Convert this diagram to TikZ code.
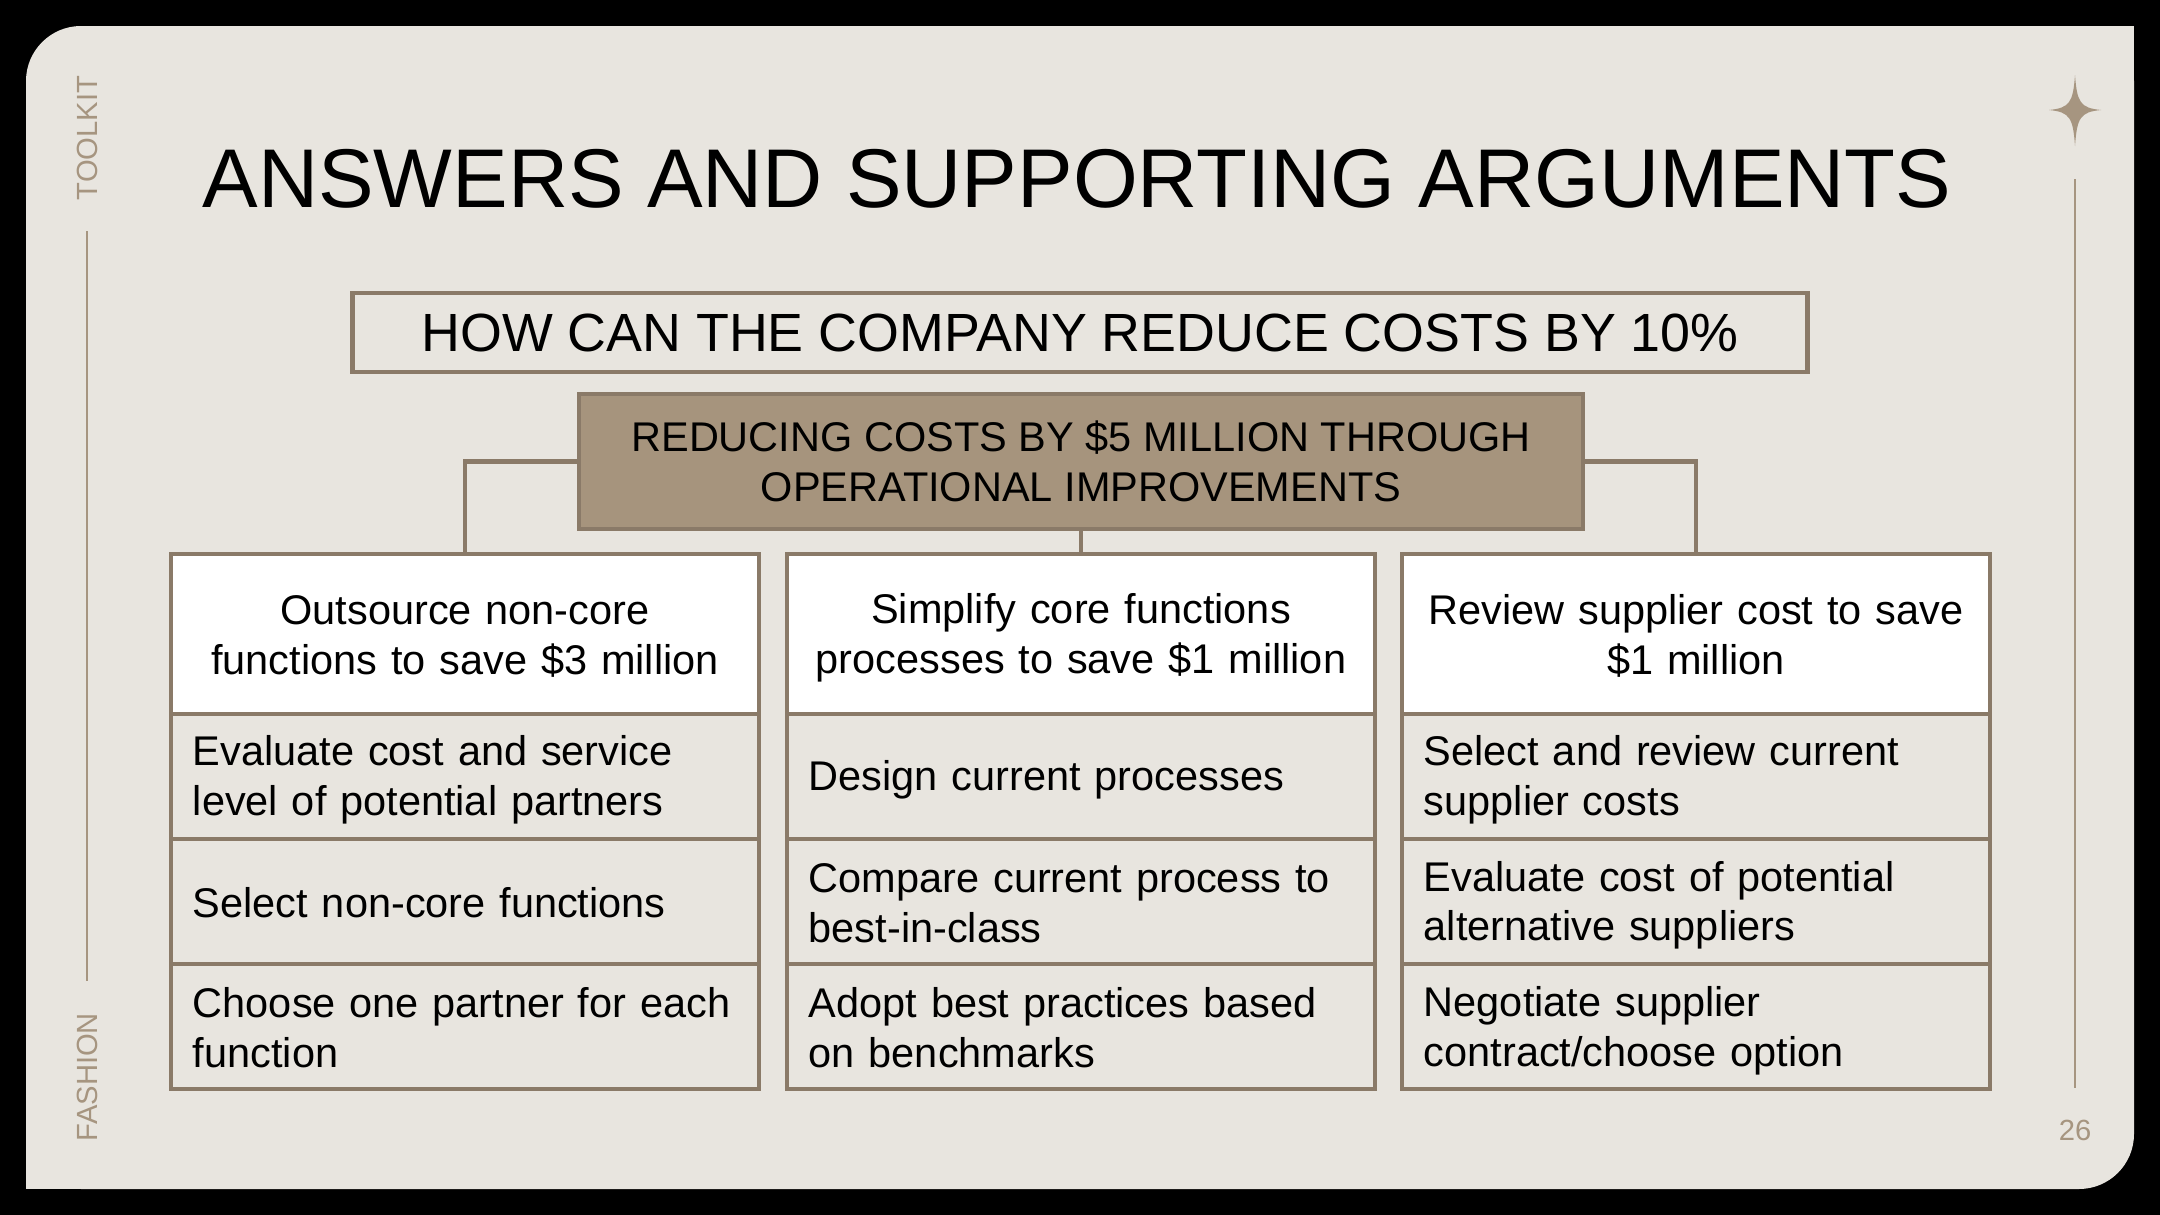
\documentclass[tikz,border=0pt]{standalone}
\usepackage{fontspec}
\setmainfont{Liberation Sans}
\usepackage{xcolor}
\usepackage{tikz}
\usetikzlibrary{positioning}
\definecolor{cardbg}{HTML}{E8E5DF}
\definecolor{accent}{HTML}{A69580}
\definecolor{boxline}{HTML}{8A7A68}
\definecolor{maintan}{HTML}{A6947D}
\newcommand{\bodyfont}{\fontsize{11.8}{14.2}\selectfont}
\newcommand{\titlefont}{\fontsize{23.7}{28}\selectfont}
\newcommand{\qfont}{\fontsize{15.3}{18}\selectfont}
\newcommand{\sidefont}{\fontsize{8.3}{10}\selectfont}
\newcommand{\cellstrut}{\rule[-0.15em]{0pt}{1.05em}}

\begin{document}
\begin{tikzpicture}[x=0.01cm,y=-0.01cm,
        cell/.style={font=\bodyfont,draw=boxline,line width=1.2pt,outer sep=0pt,minimum width=5.88cm,
            minimum height=1.25cm,text width=5.44cm,inner xsep=0.22cm,align=left},
        head/.style={cell,fill=white,minimum height=1.6cm,align=center},
        link/.style={draw=boxline,line width=1.2pt}]
        % 背景
        \fill [black] (0,0) rectangle (2160,1215);
        \fill [cardbg,rounded corners=0.55cm] (26,26) rectangle (2134,1189);
        \fill [cardbg] (1800,26) rectangle (2134,400);
        \fill [cardbg] (26,800) rectangle (400,1189);
        % 侧边
        \node [rotate=90,text=accent,font=\sidefont] (toolkit) at (87,138) {TOOLKIT};
        \node [rotate=90,text=accent,font=\sidefont] (fashion) at (87,1077) {FASHION};
        \draw [accent,line width=0.6pt] (87,231) -- (87,981);
        \draw [accent,line width=0.6pt] (2075,179) -- (2075,1088);
        \fill [accent] (2075,75) .. controls (2077,102) and (2080,108) .. (2101,110)
            .. controls (2080,112) and (2077,118) .. (2075,146)
            .. controls (2073,118) and (2070,112) .. (2049,110)
            .. controls (2070,108) and (2073,102) .. cycle;
        \node [text=accent,font=\sidefont] (page) at (2075,1130) {26};
        % 标题
        \node [font=\titlefont] (title) at (1077,179) {ANSWERS AND SUPPORTING ARGUMENTS};
        \node [draw=boxline,line width=1.2pt,minimum width=14.54cm,minimum height=0.79cm,font=\qfont] (question) at (1080,332.5) {HOW CAN THE COMPANY REDUCE COSTS BY 10\%};
        \node [draw=boxline,fill=maintan,line width=1.2pt,minimum width=10.04cm,minimum height=1.35cm,align=center,font=\bodyfont] (main) at (1081,461.5) {REDUCING COSTS BY \$5 MILLION THROUGH\\OPERATIONAL IMPROVEMENTS};
        % 三列
        \node [head] (l0) at (465,634) {\cellstrut Outsource non-core\\functions to save \$3 million\cellstrut};
        \node [cell,below=0pt of l0] (l1) {\cellstrut Evaluate cost and service\\level of potential partners\cellstrut};
        \node [cell,below=0pt of l1] (l2) {\cellstrut Select non-core functions\cellstrut};
        \node [cell,below=0pt of l2] (l3) {\cellstrut Choose one partner for each\\function\cellstrut};
        \node [head] (m0) at (1081,634) {\cellstrut Simplify core functions\\processes to save \$1 million\cellstrut};
        \node [cell,below=0pt of m0] (m1) {\cellstrut Design current processes\cellstrut};
        \node [cell,below=0pt of m1] (m2) {\cellstrut Compare current process to\\best-in-class\cellstrut};
        \node [cell,below=0pt of m2] (m3) {\cellstrut Adopt best practices based\\on benchmarks\cellstrut};
        \node [head] (r0) at (1696,634) {\cellstrut Review supplier cost to save\\\$1 million\cellstrut};
        \node [cell,below=0pt of r0] (r1) {\cellstrut Select and review current\\supplier costs\cellstrut};
        \node [cell,below=0pt of r1] (r2) {\cellstrut Evaluate cost of potential\\alternative suppliers\cellstrut};
        \node [cell,below=0pt of r2] (r3) {\cellstrut Negotiate supplier\\contract/choose option\cellstrut};
        % 连线
        \draw [link] (main.west) -| (l0.north);
        \draw [link] (main.south) -- (m0.north);
        \draw [link] (main.east) -| (r0.north);
    \end{tikzpicture}
\end{document}
